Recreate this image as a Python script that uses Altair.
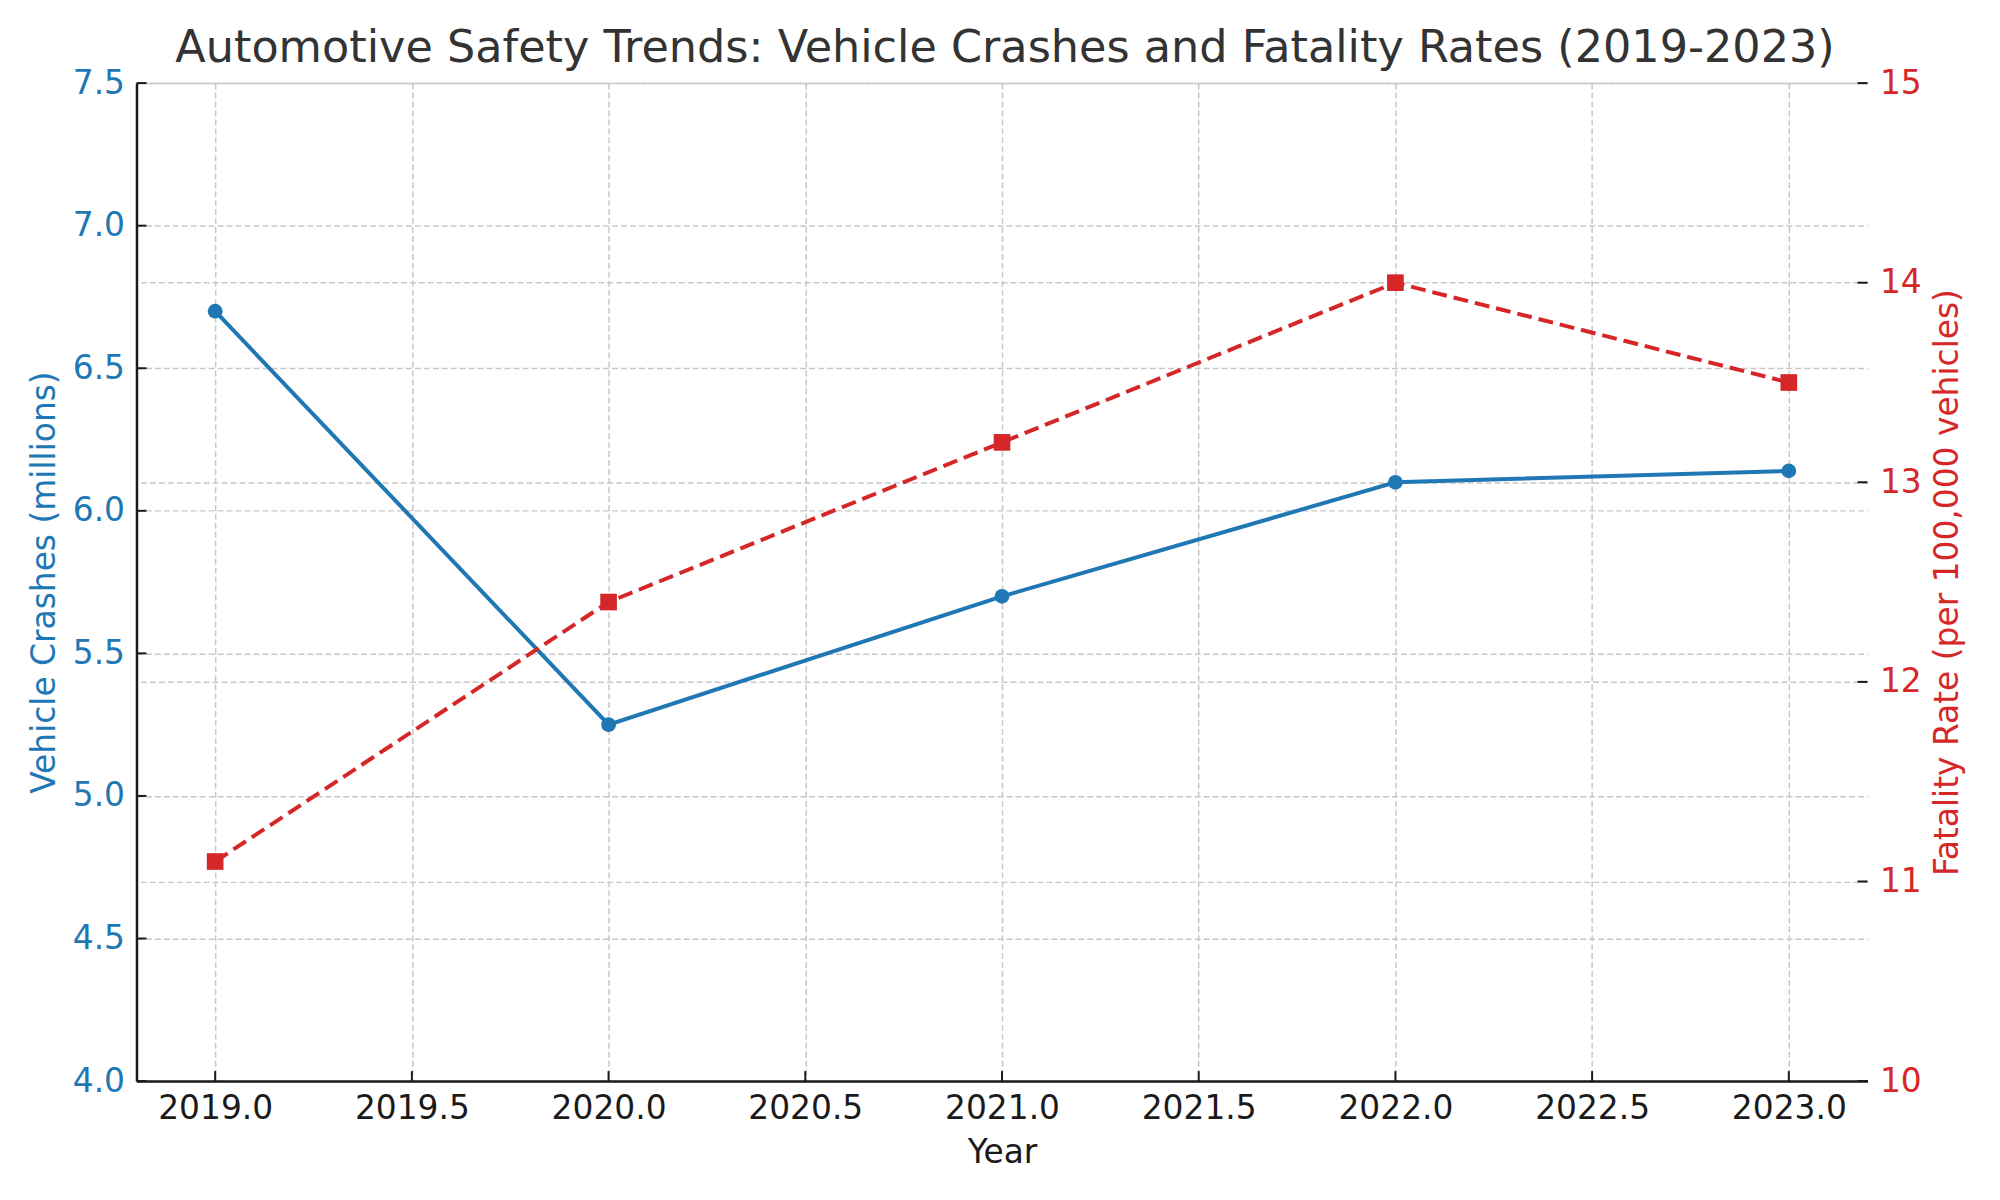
import altair as alt
import pandas as pd

# ---- data ----
years = [2019, 2020, 2021, 2022, 2023]
crashes = [6.7, 5.25, 5.7, 6.1, 6.14]
fatality = [11.1, 12.4, 13.2, 14.0, 13.5]
x_ticks = [2019.0, 2019.5, 2020.0, 2020.5, 2021.0, 2021.5, 2022.0, 2022.5, 2023.0]
left_ticks = [4.0, 4.5, 5.0, 5.5, 6.0, 6.5, 7.0, 7.5]
right_ticks = [10, 11, 12, 13, 14, 15]

TITLE = "Automotive Safety Trends: Vehicle Crashes and Fatality Rates (2019-2023)"
X_TITLE = "Year"
L_TITLE = "Vehicle Crashes (millions)"
R_TITLE = "Fatality Rate (per 100,000 vehicles)"

W, H = 1738, 1002
BLUE, RED = "#1f77b4", "#d62728"
INK = "#1a1a1a"
FONT = "DejaVu Sans"

df = pd.DataFrame({"year": years, "crashes": crashes, "fatality": fatality})
df_xt = pd.DataFrame({"year": x_ticks})
df_lt = pd.DataFrame({"crashes": left_ticks})
df_rt = pd.DataFrame({"fatality": right_ticks})

x_scale = alt.Scale(domain=[2018.8, 2023.2], nice=False, zero=False)
l_scale = alt.Scale(domain=[4.0, 7.5], nice=False, zero=False)
r_scale = alt.Scale(domain=[10, 15], nice=False, zero=False)

common = dict(grid=True, gridColor="#c8c8c8", gridDash=[6, 3], gridWidth=1.5,
              labelFont=FONT, titleFont=FONT, labelFontSize=33,
              titleFontSize=33, titleFontWeight="normal", labelFontWeight="normal",
              tickSize=0, labelPadding=12, labelFlush=False, labelOverlap=False)

x_axis = alt.Axis(title=X_TITLE, values=x_ticks, format=".1f", labelColor=INK,
                  titleColor=INK, domainColor=INK, domainWidth=2.5,
                  titlePadding=11, **common)
l_axis = alt.Axis(title=L_TITLE, orient="left", values=left_ticks, format=".1f",
                  labelColor=BLUE, titleColor=BLUE, domainColor=INK,
                  domainWidth=2.5, titlePadding=11, **common)
r_axis = alt.Axis(title=R_TITLE, orient="right", values=right_ticks, format="d",
                  labelColor=RED, titleColor=RED, domain=False, titlePadding=10,
                  titleAngle=270, titleBaseline="top", **common)

def X():
    return alt.X("year:Q", scale=x_scale, axis=x_axis, title=X_TITLE)

def YL():
    return alt.Y("crashes:Q", scale=l_scale, axis=l_axis, title=L_TITLE)

def YR():
    return alt.Y("fatality:Q", scale=r_scale, axis=r_axis, title=R_TITLE)

blue_line = alt.Chart(df).mark_line(color=BLUE, strokeWidth=4).encode(x=X(), y=YL())
blue_pts = alt.Chart(df).mark_point(filled=True, shape="circle", size=220,
                                    color=BLUE, opacity=1).encode(x=X(), y=YL())
x_tick_marks = alt.Chart(df_xt).mark_rule(color=INK, strokeWidth=2).encode(
    x=X(), y=alt.value(H - 10), y2=alt.value(H))
l_tick_marks = alt.Chart(df_lt).mark_rule(color=INK, strokeWidth=2).encode(
    y=YL(), x=alt.value(0), x2=alt.value(10))

red_line = alt.Chart(df).mark_line(color=RED, strokeWidth=4,
                                   strokeDash=[15, 7]).encode(x=X(), y=YR())
red_pts = alt.Chart(df).mark_point(filled=True, shape="square", size=280,
                                   color=RED, opacity=1).encode(x=X(), y=YR())
r_tick_marks = alt.Chart(df_rt).mark_rule(color=INK, strokeWidth=2).encode(
    y=YR(), x=alt.value(W - 10), x2=alt.value(W))

left = alt.layer(blue_line, blue_pts, x_tick_marks, l_tick_marks)
right = alt.layer(red_line, red_pts, r_tick_marks)

chart = (
    alt.layer(left, right)
    .resolve_scale(y="independent")
    .properties(
        width=W, height=H,
        background="white",
        autosize=alt.AutoSizeParams(type="none"),
        padding={"left": 129, "top": 73, "right": 125, "bottom": 117},
        title=alt.TitleParams(text=TITLE, fontSize=44.7, font=FONT,
                              color="#333333", fontWeight="normal",
                              anchor="middle", frame="group",
                              baseline="alphabetic", offset=-40, dx=3),
    )
    .configure_view(strokeWidth=0, stroke="transparent")
    .configure_axis(labelFont=FONT, titleFont=FONT, labelFontSize=33,
                    titleFontSize=33, titleFontWeight="normal")
)

chart.save("out.html", embed_options={"renderer": "svg", "actions": False})
